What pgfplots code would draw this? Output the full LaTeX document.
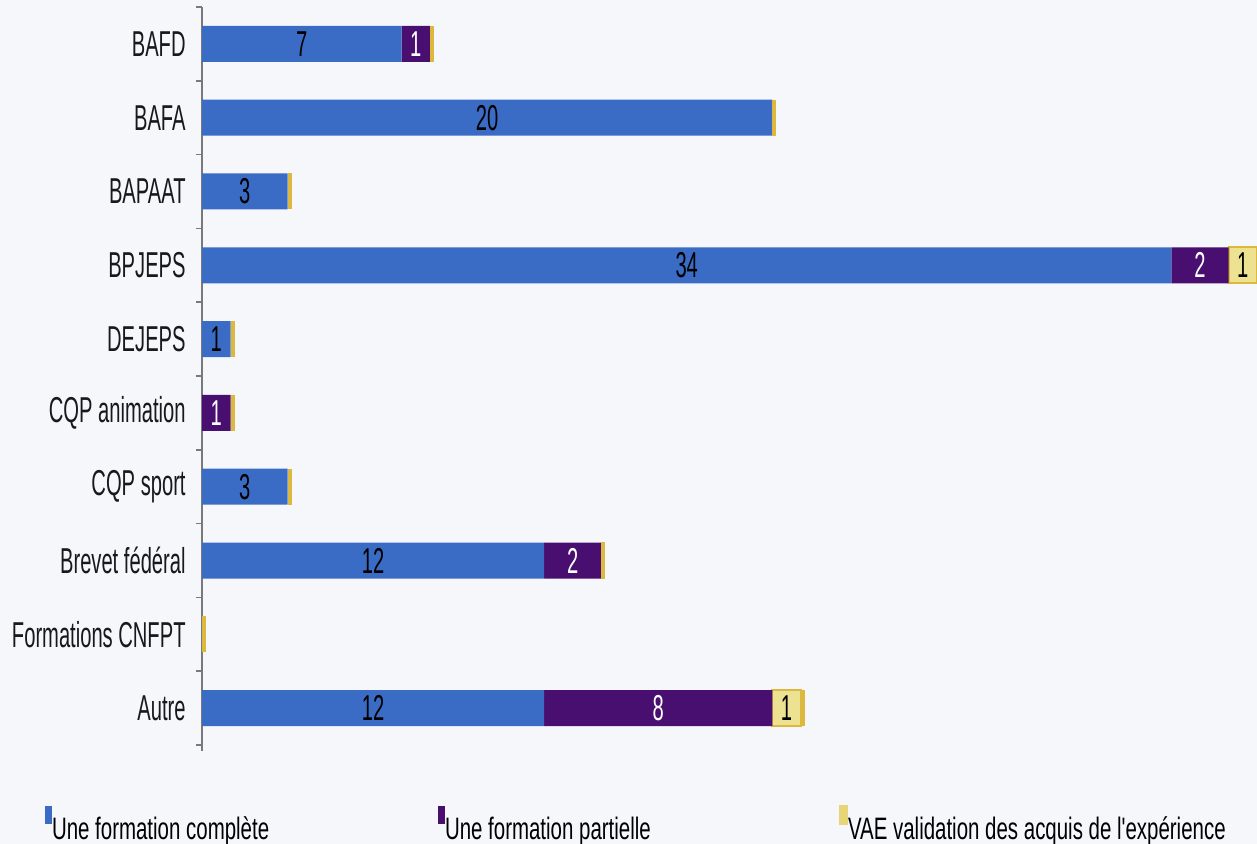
\documentclass[border=0pt]{standalone}
\usepackage{pgfplots}
\pgfplotsset{compat=1.18}
\usepackage{fontspec}
\setmainfont{Liberation Sans}[FakeStretch=0.56]
\newfontfamily\legfont{Liberation Sans}[FakeStretch=0.66]
\definecolor{cblue}{RGB}{58,108,198}
\definecolor{cpurple}{RGB}{72,14,112}
\definecolor{cyellow}{RGB}{236,226,145}
\definecolor{cgold}{RGB}{220,184,62}
\definecolor{bg}{RGB}{246,247,251}
\definecolor{axisgray}{RGB}{120,120,125}
\newcommand{\lblfont}{\fontsize{18}{20}\selectfont}
\newcommand{\nolbl}{}
\pgfplotsset{frame/.style={
  scale only axis,
  width=527.5pt, height=369pt,
  anchor=south west, at={(101pt,49.5pt)},
  xmin=0, xmax=37,
  ymin=-0.5, ymax=9.5,
  y dir=reverse,
  clip=false}}
\begin{document}
\begin{tikzpicture}
\path[use as bounding box, fill=bg] (0,0) rectangle (628.5pt,422pt);
\begin{axis}[
  frame,
  xbar stacked,
  bar width=18pt,
  axis x line=none,
  axis y line*=left,
  axis line style={draw=axisgray, line width=1pt, shorten >=-3pt},
  ytick={0,...,9},
  yticklabels={BAFD,BAFA,BAPAAT,BPJEPS,DEJEPS,CQP animation,CQP sport,Brevet fédéral,Formations CNFPT,Autre},
  major tick length=0pt,
  minor ytick={-0.5,0.5,...,9.5},
  minor tick length=3pt,
  tick align=outside,
  minor tick style={draw=axisgray, line width=0.8pt},
  yticklabel style={font=\lblfont, text=black!90, inner sep=0pt, xshift=-8pt},
  nodes near coords,
  point meta=explicit symbolic,
  every node near coord/.append style={font=\lblfont},
  legend style={draw=none, fill=none, inner sep=0pt, outer sep=0pt,
     at={(-0.1488,-0.1325)}, anchor=south west, font=\legfont\fontsize{15.5}{17}\selectfont,
     legend columns=3, nodes={inner sep=0pt}},
  legend cell align=left,
]
\addplot[fill=cblue, draw=none, legend image code/.code={\fill[cblue] (0pt,3pt) rectangle (3.5pt,12pt);},
  every node near coord/.append style={text=black}]
 coordinates {(7,0)[7] (20,1)[20] (3,2)[3] (34,3)[34] (1,4)[1] (0,5)[\nolbl] (3,6)[3] (12,7)[12] (0,8)[\nolbl] (12,9)[12]};
\addlegendentry{\makebox[193pt][l]{Une formation complète}}
\addplot[fill=cpurple, draw=none, legend image code/.code={\fill[cpurple] (0pt,3pt) rectangle (3.5pt,12pt);},
  every node near coord/.append style={text=white}]
 coordinates {(1,0)[1] (0,1)[\nolbl] (0,2)[\nolbl] (2,3)[2] (0,4)[\nolbl] (1,5)[1] (0,6)[\nolbl] (2,7)[2] (0,8)[\nolbl] (8,9)[8]};
\addlegendentry{\makebox[197pt][l]{Une formation partielle}}
\addplot[fill=cyellow, draw=cgold, line width=1pt,
  legend image code/.code={\fill[cyellow!70!cgold] (0pt,3pt) rectangle (3.5pt,12pt);},
  every node near coord/.append style={text=black}]
 coordinates {(0,0)[\nolbl] (0,1)[\nolbl] (0,2)[\nolbl] (1,3)[1] (0,4)[\nolbl] (0,5)[\nolbl] (0,6)[\nolbl] (0,7)[\nolbl] (0,8)[\nolbl] (1,9)[1]};
\addlegendentry{VAE validation des acquis de l'expérience}
\end{axis}
% bar-end edges (zero-length VAE bars show as a thin yellow edge)
\begin{axis}[frame, hide axis]
\addplot[only marks, mark=|, mark size=9pt,
  mark options={draw=cgold, line width=2pt, xshift=1pt}]
 coordinates {(8,0) (20,1) (3,2) (37,3) (1,4) (1,5) (3,6) (14,7) (0,8) (21,9)};
\end{axis}
\end{tikzpicture}
\end{document}
